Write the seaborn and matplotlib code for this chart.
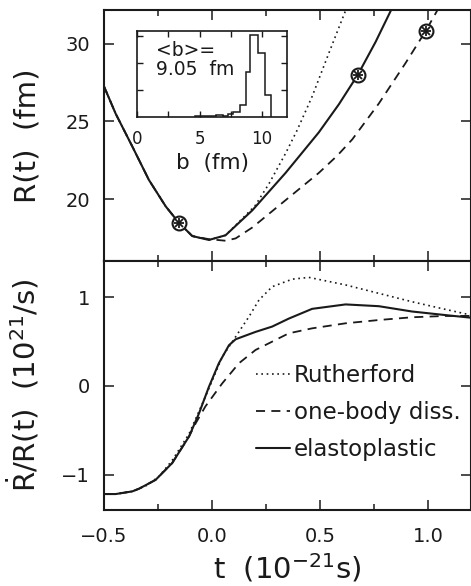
import numpy as np
import pandas as pd
import seaborn as sns
import matplotlib.pyplot as plt
from matplotlib.ticker import MultipleLocator, NullFormatter

# R(t) curves, top panel (t in 1e-21 s, R in fm)
t_el = [-0.5, -0.446, -0.369, -0.292, -0.214, -0.153, -0.091, -0.014, 0.063, 0.187, 0.341, 0.495, 0.588, 0.676, 0.758, 0.83]
r_el = [27.25, 25.5, 23.4, 21.25, 19.55, 18.5, 17.65, 17.4, 17.7, 19.3, 21.7, 24.3, 26.1, 28.0, 30.1, 32.15]

t_ru = [-0.5, -0.446, -0.369, -0.292, -0.214, -0.153, -0.091, -0.014, 0.063, 0.15, 0.20, 0.264, 0.341, 0.395, 0.464, 0.542, 0.62]
r_ru = [27.25, 25.5, 23.4, 21.25, 19.55, 18.5, 17.65, 17.4, 17.7, 18.9, 19.6, 21.0, 22.95, 24.45, 26.6, 29.4, 32.15]

t_ob = [-0.5, -0.446, -0.369, -0.292, -0.214, -0.153, -0.091, -0.014, 0.063, 0.11, 0.187, 0.341, 0.495, 0.58, 0.65, 0.773, 0.897, 0.99, 1.045]
r_ob = [27.25, 25.5, 23.4, 21.25, 19.55, 18.5, 17.65, 17.45, 17.35, 17.5, 18.2, 19.95, 21.7, 22.8, 23.85, 26.15, 28.75, 30.8, 32.15]

# marked points on R(t)
t_mark = [-0.153, 0.676, 0.99]
r_mark = [18.5, 28.0, 30.8]

# Rdot/R curves, bottom panel (1e21 /s)
t_el2 = [-0.5, -0.446, -0.369, -0.338, -0.261, -0.184, -0.106, -0.06, -0.014, 0.032, 0.079, 0.11, 0.202, 0.279, 0.356, 0.464, 0.619, 0.773, 0.927, 1.08, 1.2]
v_el2 = [-1.22, -1.22, -1.19, -1.16, -1.06, -0.87, -0.57, -0.31, -0.01, 0.256, 0.46, 0.527, 0.61, 0.67, 0.76, 0.87, 0.92, 0.90, 0.84, 0.80, 0.77]

t_ru2 = [-0.5, -0.446, -0.369, -0.3, -0.245, -0.184, -0.106, -0.03, 0.048, 0.11, 0.171, 0.218, 0.279, 0.372, 0.449, 0.619, 0.773, 0.927, 1.08, 1.2]
v_ru2 = [-1.22, -1.22, -1.19, -1.12, -1.02, -0.84, -0.54, -0.12, 0.33, 0.556, 0.78, 0.97, 1.12, 1.205, 1.225, 1.14, 1.045, 0.95, 0.865, 0.80]

t_ob2 = [-0.5, -0.446, -0.369, -0.338, -0.261, -0.184, -0.106, -0.075, -0.03, 0.048, 0.125, 0.202, 0.279, 0.356, 0.464, 0.619, 0.773, 0.927, 1.08, 1.2]
v_ob2 = [-1.22, -1.22, -1.19, -1.16, -1.06, -0.87, -0.57, -0.42, -0.23, 0.03, 0.256, 0.406, 0.50, 0.594, 0.65, 0.707, 0.744, 0.775, 0.79, 0.79]

# inset: impact parameter distribution
b_edges = [4.6, 6.3, 6.9, 7.3, 7.7, 8.2, 8.7, 9.0, 9.7, 10.2, 10.7]
b_counts = [0.02, 0.09, 0.05, 0.12, 0.19, 0.46, 1.69, 3.05, 2.375, 0.81]

sns.set_theme(style='ticks')
plt.rcParams['font.family'] = ['DejaVu Sans']
plt.rcParams['mathtext.default'] = 'regular'
plt.rcParams['axes.linewidth'] = 1.5
plt.rcParams['text.color'] = 'k'
plt.rcParams['axes.labelcolor'] = 'k'
plt.rcParams['xtick.color'] = 'k'
plt.rcParams['ytick.color'] = 'k'
plt.rcParams['axes.edgecolor'] = 'k'

fig = plt.figure(figsize=(4.71, 5.86), dpi=100)
ax1 = fig.add_axes([104/471, 1-261/586, 367/471, 251/586])
ax2 = fig.add_axes([104/471, 1-510/586, 367/471, 249/586])
axin = fig.add_axes([137/471, 1-117/586, 150/471, 86/586])

dots = (0, (1, 2.2))
dash = (0, (5, 3.5))

# top panel
sns.lineplot(x=t_ru, y=r_ru, ax=ax1, color='k', lw=1.2, linestyle=dots, estimator=None, sort=False)
sns.lineplot(x=t_ob, y=r_ob, ax=ax1, color='k', lw=1.3, linestyle=dash, estimator=None, sort=False)
sns.lineplot(x=t_el, y=r_el, ax=ax1, color='k', lw=1.5, estimator=None, sort=False)
ax1.plot(t_mark, r_mark, 'o', ms=10, mfc='white', mec='k', mew=1.5, zorder=5)
ax1.plot(t_mark, r_mark, '+', ms=7, mec='k', mew=1.3, zorder=6)
ax1.plot(t_mark, r_mark, 'x', ms=5.5, mec='k', mew=1.3, zorder=6)
ax1.set_ylim(16.05, 32.15)
ax1.set_ylabel('R(t)  (fm)', fontsize=21)
ax1.yaxis.set_major_locator(MultipleLocator(5))

# bottom panel
sns.lineplot(x=t_ru2, y=v_ru2, ax=ax2, color='k', lw=1.2, linestyle=dots, estimator=None, sort=False, label='Rutherford')
sns.lineplot(x=t_ob2, y=v_ob2, ax=ax2, color='k', lw=1.3, linestyle=dash, estimator=None, sort=False, label='one-body diss.')
sns.lineplot(x=t_el2, y=v_el2, ax=ax2, color='k', lw=1.5, estimator=None, sort=False, label='elastoplastic')
ax2.set_ylim(-1.4, 1.41)
ax2.yaxis.set_major_locator(MultipleLocator(1))
ax2.set_ylabel(r'$\dot{R}$/R(t)  (10$^{21}$/s)', fontsize=21)
ax2.set_xlabel(r't  (10$^{-21}$s)', fontsize=21, labelpad=4)
ax2.legend(loc='upper left', bbox_to_anchor=(0.415, 0.585), frameon=False, fontsize=16.5,
           handlelength=1.45, handletextpad=0.2, labelspacing=0.6, borderpad=0, borderaxespad=0)

for ax in (ax1, ax2):
    ax.set_xlim(-0.5, 1.2)
    ax.xaxis.set_major_locator(MultipleLocator(0.5))
    ax.xaxis.set_minor_locator(MultipleLocator(0.25))
    ax.tick_params(which='both', direction='in', top=True, right=True, colors='k', labelsize=14)
    ax.tick_params(which='major', length=7, width=1.1)
    ax.tick_params(which='minor', length=4, width=1.1)
    ax.tick_params(axis='y', pad=10)
    ax.tick_params(axis='x', pad=12)
    ax.yaxis.set_label_coords(-0.17, 0.5)
    for s in ax.spines.values():
        s.set_color('k')
ax1.tick_params(labelbottom=False)
ax1.set_xlabel('')
ax2.xaxis.set_major_formatter(plt.FuncFormatter(lambda v, p: f'{v:.1f}'.replace('-', '\u2212')))

# inset histogram
axin.stairs(b_counts, b_edges, color='k', lw=1.1)
axin.set_xlim(0, 12)
axin.set_ylim(0, 3.2)
axin.set_xticks([0, 2.5, 5, 7.5, 10])
axin.set_xticklabels(['0', '', '5', '', '10'])
axin.set_yticks([1, 2, 3])
axin.yaxis.set_major_formatter(NullFormatter())
axin.tick_params(direction='in', top=True, right=True, length=4, width=1, labelsize=12, pad=9, colors='k')
axin.set_xlabel('b  (fm)', fontsize=15.5, labelpad=4)
for s in axin.spines.values():
    s.set_linewidth(1.2)
    s.set_color('k')
axin.text(0.13, 0.88, '<b>=\n9.05  fm', transform=axin.transAxes, fontsize=13.5,
          va='top', ha='left', linespacing=0.95)

fig.savefig('out.png', dpi=100)
